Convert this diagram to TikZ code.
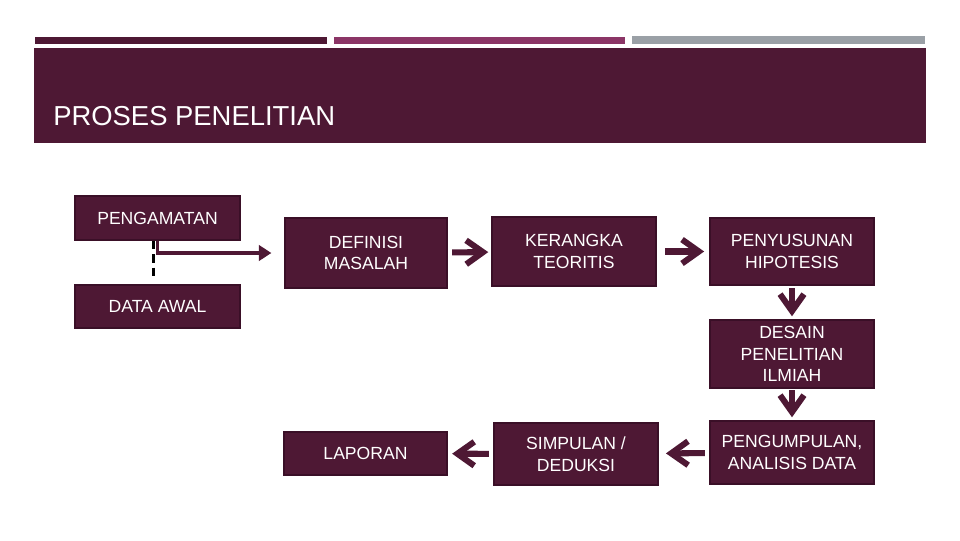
\documentclass[tikz,border=0pt]{standalone}
\usepackage{fontspec}
\setmainfont{Liberation Sans}
\usetikzlibrary{arrows.meta}

\begin{document}
\begin{tikzpicture}[x=0.025cm, y=-0.025cm,
    box/.style={draw=borderMaroon, fill=mainMaroon, line width=1.3pt, text=white,
        inner sep=0pt, align=center, font=\fontsize{12.5}{15.5}\selectfont},
    chevron/.style={draw=mainMaroon, line width=4.3pt, shorten <=3pt, shorten >=2pt,
        -{Straight Barb[length=12pt, width=17pt, sharp]}}]
    % Define colours
    \definecolor{mainMaroon}{HTML}{4E1834}
    \definecolor{borderMaroon}{HTML}{3A0F27}
    \definecolor{pinkBar}{HTML}{8B3566}
    \definecolor{greyBar}{HTML}{9AA0A6}

    % Fix the page size
    \useasboundingbox (0,0) rectangle (960,540);

    % Draw top bars and title band
    \fill[mainMaroon] (35,37) rectangle (327,44);
    \fill[pinkBar] (334,37) rectangle (625,44);
    \fill[greyBar] (632,36) rectangle (925,44);
    \fill[mainMaroon] (34,48) rectangle (926,143);
    \node[anchor=base west, text=white, inner sep=0pt,
        font=\fontsize{19.5}{23}\selectfont] (title) at (53,125) {PROSES PENELITIAN};

    % Draw the boxes
    \node[box, minimum width=4.125cm, minimum height=1.1cm] (pengamatan) at (157.5,218) {PENGAMATAN};
    \node[box, minimum width=4.125cm, minimum height=1.075cm] (dataawal) at (157.5,306.5) {DATA AWAL};
    \node[box, minimum width=4.05cm, minimum height=1.75cm] (definisi) at (366,253) {DEFINISI\\MASALAH};
    \node[box, minimum width=4.1cm, minimum height=1.725cm] (kerangka) at (574,251.5) {KERANGKA\\TEORITIS};
    \node[box, minimum width=4.1cm, minimum height=1.675cm] (penyusunan) at (792,251.5) {PENYUSUNAN\\HIPOTESIS};
    \node[box, minimum width=4.1cm, minimum height=1.7cm] (desain) at (792,354) {DESAIN\\PENELITIAN\\ILMIAH};
    \node[box, minimum width=4.1cm, minimum height=1.575cm] (pengumpulan) at (792,452.5) {PENGUMPULAN,\\ANALISIS DATA};
    \node[box, minimum width=4.1cm, minimum height=1.55cm] (simpulan) at (576,454) {SIMPULAN /\\DEDUKSI};
    \node[box, minimum width=4.075cm, minimum height=1.075cm] (laporan) at (365.5,453.5) {LAPORAN};

    % Draw the link from PENGAMATAN
    \draw[black, line width=2pt, dash pattern=on 6pt off 3.5pt, shorten >=6pt]
        ([xshift=-3]pengamatan.south) -- ([xshift=-3]dataawal.north);
    \draw[mainMaroon, line width=2.6pt, shorten >=9pt, -{Triangle[length=9pt, width=11pt]}]
        (pengamatan.south) |- (definisi.west);

    % Draw the chevron arrows
    \draw[chevron] (definisi) -- (kerangka);
    \draw[chevron, shorten <=6pt, shorten >=3.5pt] (kerangka) -- (penyusunan);
    \draw[chevron, shorten <=1.5pt, shorten >=2pt] (penyusunan) -- (desain);
    \draw[chevron, shorten <=1pt, shorten >=2pt] (desain) -- (pengumpulan);
    \draw[chevron, shorten >=5pt] (pengumpulan) -- (simpulan);
    \draw[chevron, shorten >=3pt] (simpulan) -- (laporan);

\end{tikzpicture}
\end{document}
